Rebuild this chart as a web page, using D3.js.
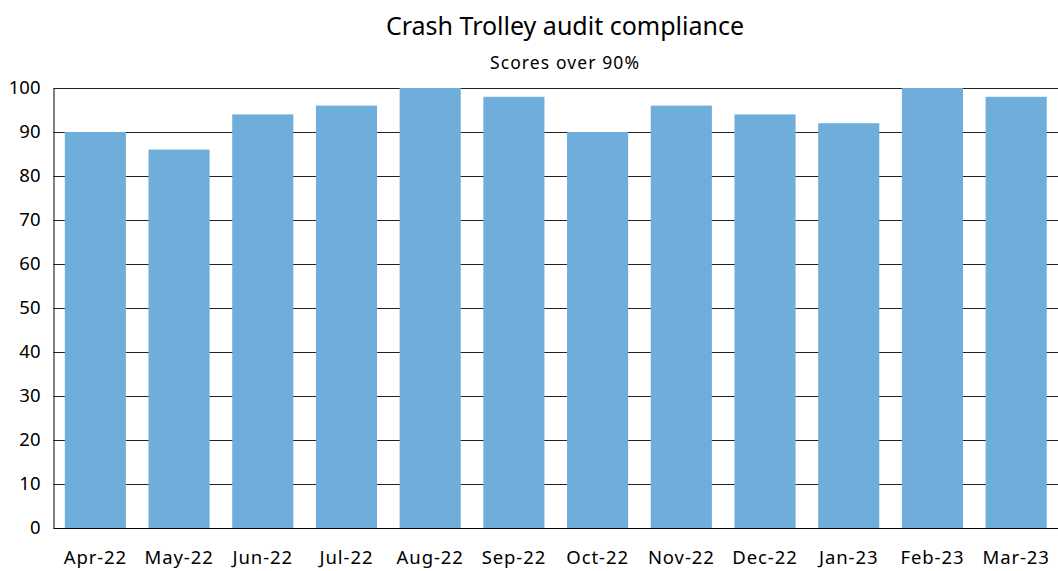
<!DOCTYPE html>
<html lang="en">
<meta charset="utf-8">
<title>Crash Trolley audit compliance</title>
<head>
  <style>
    body { margin: 0; background: #fff; }
    text { font-family: "Noto Sans", "Open Sans", sans-serif; fill: #000; }
  </style>
</head>
<body>
  <script src="https://d3js.org/d3.v7.min.js"></script>
  <div id="chart"></div>
  <script>
    // chart data
    var months = ["Apr-22", "May-22", "Jun-22", "Jul-22", "Aug-22", "Sep-22",
      "Oct-22", "Nov-22", "Dec-22", "Jan-23", "Feb-23", "Mar-23"];
    var scores = [90, 86, 94, 96, 100, 98, 90, 96, 94, 92, 100, 98];
    var yTicks = [0, 10, 20, 30, 40, 50, 60, 70, 80, 90, 100];

    var W = 1058, H = 571;
    var margin = { top: 88, right: 0, bottom: 43, left: 53.5 };
    var width = W - margin.left - margin.right,
      height = H - margin.top - margin.bottom;
    var font = "'Noto Sans', 'Open Sans', sans-serif";

    var svg = d3.select("#chart").append("svg")
      .attr("width", W).attr("height", H);

    svg.append("text")
      .attr("x", 565).attr("y", 35)
      .attr("text-anchor", "middle")
      .style("font-size", "25px")
      .text("Crash Trolley audit compliance");
    svg.append("text")
      .attr("x", 565).attr("y", 69)
      .attr("text-anchor", "middle")
      .style("font-size", "17.5px")
      .style("letter-spacing", "1.1px")
      .text("Scores over 90%");

    var g = svg.append("g")
      .attr("transform", "translate(" + margin.left + "," + margin.top + ")");

    var x = d3.scaleBand().domain(months).range([0, width])
      .paddingInner(0.27).paddingOuter(0.135);
    var y = d3.scaleLinear().domain([0, 100]).range([height, 0]);

    // gridlines
    g.selectAll(".grid").data(yTicks).enter().append("line")
      .attr("x1", 0).attr("x2", width)
      .attr("y1", function (d) { return Math.round(y(d)) + 0.5; })
      .attr("y2", function (d) { return Math.round(y(d)) + 0.5; })
      .attr("stroke", "#222").attr("stroke-width", 1.2);

    // bars
    g.selectAll(".bar").data(scores).enter().append("rect")
      .attr("x", function (d, i) { return x(months[i]); })
      .attr("width", x.bandwidth())
      .attr("y", function (d) { return y(d); })
      .attr("height", function (d) { return height - y(d); })
      .attr("fill", "#6faddb");

    // y axis
    var yAxis = g.append("g")
      .call(d3.axisLeft(y).tickValues(yTicks).tickSize(0).tickPadding(13));
    yAxis.select(".domain").attr("stroke", "#000");
    yAxis.selectAll("text").style("font-size", "18.5px")
      .style("font-family", font);

    // x axis
    var xAxis = g.append("g")
      .attr("transform", "translate(0," + height + ")")
      .call(d3.axisBottom(x).tickSize(0).tickPadding(23));
    xAxis.select(".domain").attr("stroke", "#000");
    xAxis.selectAll("text").style("font-size", "18.5px")
      .style("letter-spacing", "0.9px")
      .style("font-family", font);
  </script>
</body>
</html>
